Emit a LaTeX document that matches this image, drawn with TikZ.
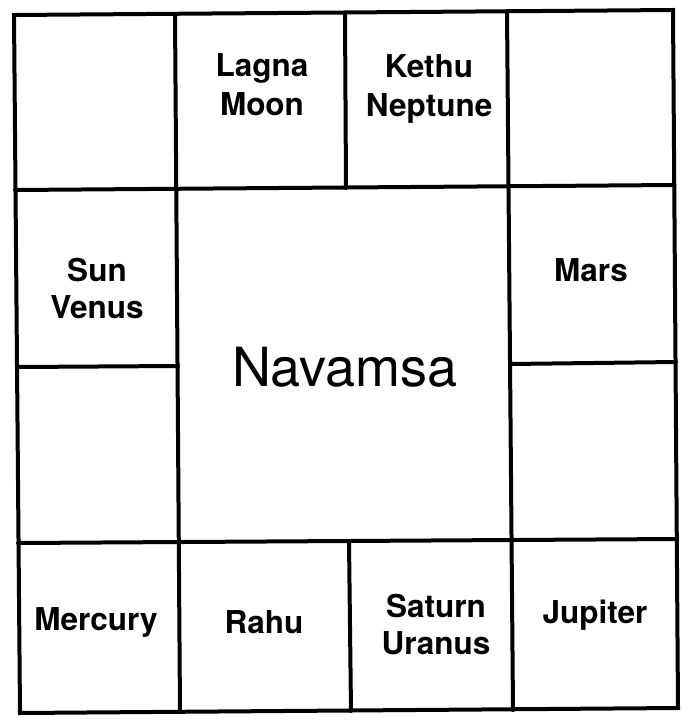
\documentclass[tikz,border=0pt]{standalone}
\usepackage{fontspec}
\setmainfont{TeX Gyre Heros}
\begin{document}
\begin{tikzpicture}[x=1pt,y=-1pt,
  grid/.style={line width=4pt,line cap=round,line join=miter},
  lbl/.style={anchor=base,inner sep=0pt,font=\fontsize{31.5}{36}\selectfont\bfseries},
  big/.style={anchor=base,inner sep=0pt,font=\fontsize{54}{60}\selectfont}]
\useasboundingbox (0,0) rectangle (692,726);
% outer frame
\draw[grid] (14,15) -- (673,10) -- (678,708) -- (20,713) -- cycle;
% full vertical lines
\draw[grid] (175,14) -- (180,712);
\draw[grid] (507,11) -- (513,710);
% full horizontal lines
\draw[grid] (15,190) -- (674,185);
\draw[grid] (18,543) -- (677,539);
% partial lines
\draw[grid] (345,13) -- (346,188);
\draw[grid] (349,541) -- (351,711);
\draw[grid] (17,367) -- (178,366);
\draw[grid] (510,364) -- (676,362);
% labels
\node[lbl] (lagna) at (262,76) {Lagna};
\node[lbl] (moon) at (262,115) {Moon};
\node[lbl] (kethu) at (429,77) {Kethu};
\node[lbl] (neptune) at (429,116) {Neptune};
\node[lbl] (sun) at (97,281) {Sun};
\node[lbl] (venus) at (97,318) {Venus};
\node[lbl] (mars) at (591,281) {Mars};
\node[big] (navamsa) at (345,386) {Navamsa};
\node[lbl] (mercury) at (96,630) {Mercury};
\node[lbl] (rahu) at (264,633) {Rahu};
\node[lbl] (saturn) at (436,617) {Saturn};
\node[lbl] (uranus) at (436,654) {Uranus};
\node[lbl] (jupiter) at (595,623) {Jupiter};
\end{tikzpicture}
\end{document}
